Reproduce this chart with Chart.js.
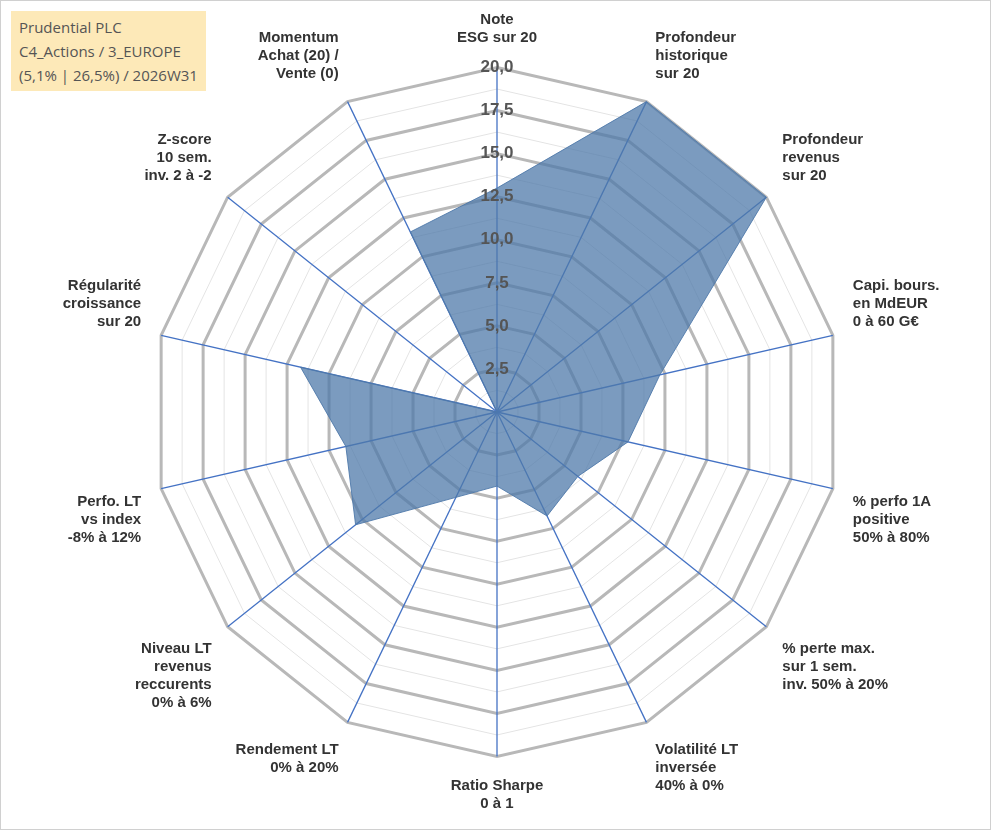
<!DOCTYPE html>
<html>
<head>
<meta charset="utf-8">
<script src="https://cdn.jsdelivr.net/npm/chart.js@4/dist/chart.umd.min.js"></script>
<style>
  body { margin: 0; background: #fff; }
  #wrap { position: relative; width: 989px; height: 828px; border: 1px solid #d0d0d0; }
  #titre { position: absolute; left: 10px; top: 10px; background: #fde9b8; padding: 4px 8px;
    font-family: "Open Sans", sans-serif; font-size: 15px; color: #555; line-height: 24px; z-index: 2; }
</style>
</head>
<body>
<div id="wrap">
  <div id="titre">Prudential PLC<br>C4_Actions / 3_EUROPE<br>(5,1% | 26,5%) / 2026W31</div>
  <canvas id="radarChart" width="989" height="828"></canvas>
</div>
<script>
const criteres = [
  { naam: ["Note", "ESG sur 20"], score: 13 },
  { naam: ["Profondeur", "historique", "sur 20"], score: 20 },
  { naam: ["Profondeur", "revenus", "sur 20"], score: 20 },
  { naam: ["Capi. bours.", "en MdEUR", "0 à 60 G€"], score: 9.7 },
  { naam: ["% perfo 1A", "positive", "50% à 80%"], score: 7.8 },
  { naam: ["% perte max.", "sur 1 sem.", "inv. 50% à 20%"], score: 6 },
  { naam: ["Volatilité LT", "inversée", "40% à 0%"], score: 6.7 },
  { naam: ["Ratio Sharpe", "0 à 1"], score: 4.3 },
  { naam: ["Rendement LT", "0% à 20%"], score: 5.5 },
  { naam: ["Niveau LT", "revenus", "reccurents", "0% à 6%"], score: 10.5 },
  { naam: ["Perfo. LT", "vs index", "-8% à 12%"], score: 9 },
  { naam: ["Régularité", "croissance", "sur 20"], score: 11.7 },
  { naam: ["Z-score", "10 sem.", "inv. 2 à -2"], score: 0 },
  { naam: ["Momentum", "Achat (20) /", "Vente (0)"], score: 11.6 },
];

const ctx = document.getElementById("radarChart").getContext("2d");
new Chart(ctx, {
  type: "radar",
  data: {
    labels: criteres.map(c => c.naam),
    datasets: [{
      data: criteres.map(c => c.score),
      backgroundColor: "rgba(79, 121, 170, 0.75)",
      borderColor: "rgba(79, 121, 170, 0.9)",
      borderWidth: 1,
      pointRadius: 0,
    }],
  },
  options: {
    responsive: false,
    animation: false,
    layout: { padding: { top: 10, bottom: 16, left: 22, right: 10 } },
    plugins: { legend: { display: false }, tooltip: { enabled: false } },
    scales: {
      r: {
        min: 0,
        max: 20,
        ticks: {
          stepSize: 1.25,
          backdropColor: "rgba(0,0,0,0)",
          color: "#555",
          font: { family: "Arial", size: 17, weight: "bold" },
          callback: v => (v % 2.5 === 0 ? v.toFixed(1).replace(".", ",") : ""),
          z: 1,
        },
        grid: {
          color: c => (c.tick.value % 2.5 === 0 ? "#b8b8b8" : "#e4e4e4"),
          lineWidth: c => (c.tick.value % 2.5 === 0 ? 3 : 1),
        },
        angleLines: { color: "#4472c4", lineWidth: 1.3 },
        pointLabels: {
          color: "#333",
          font: { family: "Arial", size: 15, weight: "bold" },
          padding: 10,
        },
      },
    },
  },
});
</script>
</body>
</html>
